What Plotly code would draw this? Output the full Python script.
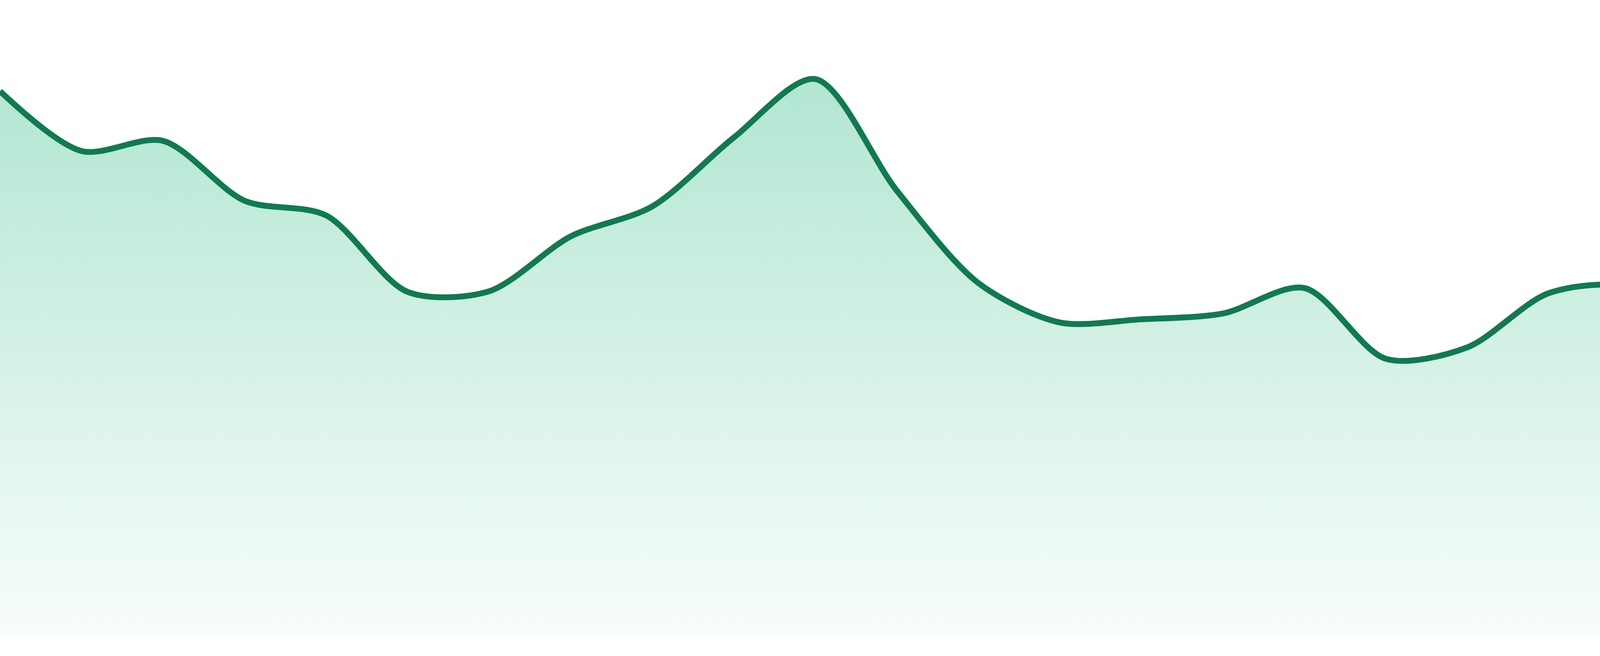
import plotly.graph_objects as go

# values (24 evenly spaced samples)
steps = list(range(24))
values = [85.7, 76.3, 77.9, 68.5, 66.2, 54.2, 54.3, 62.9, 67.6, 78.4,
          87.6, 70.1, 55.6, 49.4, 49.9, 50.8, 54.8, 43.7, 45.5, 54.0,
          54.9, 46.3, 51.9, 54.1]

LINE_COLOR = "#107a50"
FILL_TOP = "rgba(34,184,126,0.35)"
FILL_BOTTOM = "rgba(34,184,126,0.03)"


def create_area_chart(x, y):
    fig = go.Figure()

    fig.add_trace(go.Scatter(
        x=x,
        y=y,
        mode="lines",
        line=dict(color=LINE_COLOR, width=15, shape="spline", smoothing=0.85),
        fill="tozeroy",
        fillgradient=dict(
            type="vertical",
            start=0,
            stop=max(y),
            colorscale=[[0, FILL_BOTTOM], [1, FILL_TOP]]
        ),
        hoverinfo="skip",
        showlegend=False
    ))

    fig.update_layout(
        width=4800,
        height=1680,
        margin=dict(l=0, r=0, t=0, b=48),
        paper_bgcolor="white",
        plot_bgcolor="white",
        xaxis=dict(visible=False, range=[x[0], x[-1]], showgrid=False, zeroline=False),
        yaxis=dict(visible=False, range=[0, 100], showgrid=False, zeroline=False)
    )
    return fig


fig = create_area_chart(steps, values)
# drop the browser's default body margin so the chart sits flush in the window
fig.write_html("out.html", post_script="document.body.style.margin='0';")
